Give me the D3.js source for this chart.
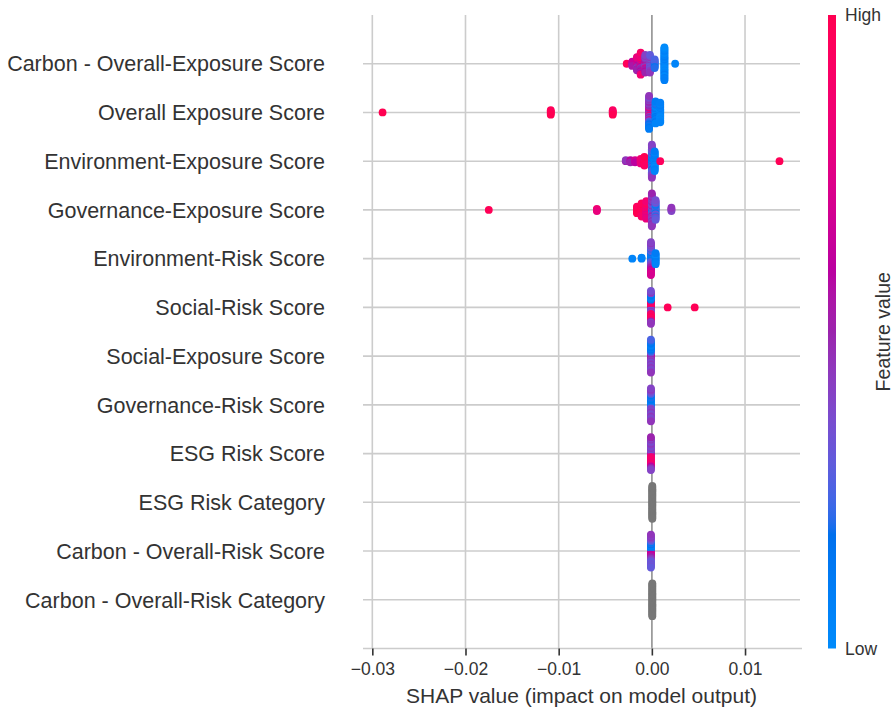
<!DOCTYPE html>
<html>
<head>
<meta charset="utf-8">
<script src="https://cdn.jsdelivr.net/npm/d3@7"></script>
<style>
  html, body { margin: 0; padding: 0; background: #ffffff; }
  svg { display: block; font-family: "Liberation Sans", Arial, Helvetica, sans-serif; }
</style>
</head>
<body>
<svg id="chart" width="894" height="710"></svg>
<script>
// Features, ordered from most to least important (top to bottom).
const featureNames = [
  "Carbon - Overall-Exposure Score",
  "Overall Exposure Score",
  "Environment-Exposure Score",
  "Governance-Exposure Score",
  "Environment-Risk Score",
  "Social-Risk Score",
  "Social-Exposure Score",
  "Governance-Risk Score",
  "ESG Risk Score",
  "ESG Risk Category",
  "Carbon - Overall-Risk Score",
  "Carbon - Overall-Risk Category"
];

// Each entry: [SHAP value, normalised feature values of the samples at that SHAP value]
// (feature value 0 = low, 1 = high, null = not numeric)
const carbonOverallExposure = [
  [-0.0027, [0.97]],
  [-0.0021, [0.6, 0.75, 0.5, 0.65, 0.55]],
  [-0.0016, [0.7, 0.55, 0.8, 0.5, 0.65, 0.75, 0.5, 0.6, 0.45, 0.7, 0.55, 0.8, 0.5]],
  [-0.0012, [0.7, 0.5, 0.8, 0.5, 0.75, 0.55, 0.65, 0.85, 0.45, 0.7, 0.5, 0.9, 0.5, 0.8, 0.6, 0.85, 0.5, 0.75, 0.6, 0.9, 0.85]],
  [-0.0007, [0.45, 0.5, 0.4, 0.55, 0.45, 0.65, 0.4, 0.5, 0.75, 0.45, 0.55, 0.4, 0.5, 0.45, 0.6, 0.4, 0.5]],
  [-0.0002, [0.35, 0.4, 0.3, 0.45, 0.35, 0.4, 0.3, 0.45, 0.4, 0.35, 0.3, 0.45, 0.4, 0.35, 0.4, 0.3, 0.45]],
  [0.0003, [0.15, 0.2, 0.25, 0.1, 0.2, 0.3, 0.15, 0.25, 0.2]],
  [0.00135, [0.05, 0.0, 0.1, 0.05, 0.08, 0.0, 0.05, 0.1, 0.02, 0.05, 0.0, 0.08, 0.05, 0.1, 0.0, 0.05,
             0.03, 0.08, 0.05, 0.0, 0.1, 0.05, 0.02, 0.08, 0.0, 0.05, 0.1, 0.03, 0.05, 0.0, 0.08]],
  [0.0025, [0.05]]
];

const overallExposure = [
  [-0.0289, [1.0]],
  [-0.01085, [0.98, 1.0, 0.95, 0.97, 1.0]],
  [-0.0042, [0.95, 1.0, 0.97, 0.93, 0.99]],
  [-0.0003, [0.7, 0.5, 0.4, 0.75, 0.45, 0.45, 0.8, 0.55, 0.4, 0.8, 0.5, 0.45, 0.35, 0.5, 0.75, 0.4,
             0.3, 0.45, 0.25, 0.5, 0.2, 0.4, 0.15, 0.45, 0.2, 0.4, 0.1, 0.35, 0.15, 0.45, 0.1]],
  [0.0004, [0.1, 0.05, 0.15, 0.1, 0.0, 0.2, 0.05, 0.1, 0.15, 0.05, 0.1, 0.0, 0.15, 0.1, 0.05, 0.2, 0.1, 0.05, 0.15, 0.1, 0.05]],
  [0.0009, [0.05, 0.0, 0.1, 0.05, 0.08, 0.0, 0.05, 0.1, 0.02, 0.05, 0.0, 0.08, 0.05, 0.1, 0.0, 0.05, 0.03, 0.08, 0.05]]
];

const environmentExposure = [
  [0.0137, [0.98]],
  [-0.0028, [0.5, 0.45]],
  [-0.0023, [0.55, 0.6, 0.5]],
  [-0.0018, [0.65, 0.7, 0.6]],
  [-0.0012, [0.8, 0.85, 0.75, 0.85, 0.8]],
  [-0.0008, [0.95, 0.9, 1.0, 0.92, 0.97, 0.9, 0.95, 1.0, 0.93]],
  [0.0, [0.1, 0.05, 0.15, 0.1, 0.2, 0.15, 0.1, 0.05, 0.25, 0.2, 0.15, 0.1, 0.3, 0.25, 0.2, 0.3,
         0.15, 0.2, 0.35, 0.35, 0.25, 0.3, 0.3, 0.4, 0.35, 0.35, 0.4, 0.45, 0.4, 0.4, 0.45]],
  [0.0003, [0.0, 0.05, 0.1, 0.05, 0.0, 0.08, 0.1, 0.05, 0.02, 0.1, 0.05, 0.08, 0.0, 0.1, 0.05, 0.03, 0.08, 0.1, 0.05]],
  [0.0009, [0.95]]
];

const governanceExposure = [
  [-0.0175, [0.98]],
  [-0.0059, [0.8, 0.85, 0.8]],
  [-0.0016, [1.0, 0.95, 0.98, 1.0, 0.97, 0.95, 1.0]],
  [-0.0011, [0.95, 1.0, 0.9, 0.98, 0.92, 1.0, 0.95, 0.9, 0.97, 1.0, 0.93, 0.95, 0.9]],
  [-0.0006, [0.85, 0.9, 0.8, 0.95, 0.75, 0.85, 0.9, 0.8, 0.7, 0.9, 0.85, 0.95, 0.8, 0.9, 0.75, 0.85, 0.8]],
  [0.0, [0.15, 0.3, 0.2, 0.45, 0.15, 0.35, 0.4, 0.5, 0.25, 0.4, 0.45, 0.3, 0.5, 0.45, 0.4, 0.5,
         0.45, 0.4, 0.35, 0.45, 0.5, 0.4, 0.45, 0.5, 0.4, 0.45, 0.5, 0.4, 0.45, 0.5, 0.45]],
  [0.0004, [0.1, 0.15, 0.2, 0.1, 0.25, 0.3, 0.15, 0.2, 0.35, 0.1, 0.3, 0.25, 0.2, 0.35, 0.4, 0.3, 0.25, 0.35, 0.3]],
  [0.0021, [0.45, 0.5, 0.4, 0.45]]
];

const environmentRisk = [
  [-0.0021, [0.05]],
  [-0.0011, [0.08, 0.05]],
  [-0.0001, [0.1, 0.1, 0.15, 0.05, 0.2, 0.15, 0.25, 0.1, 0.3, 0.2, 0.35, 0.15, 0.4, 0.25, 0.45, 0.3,
             0.5, 0.2, 0.55, 0.35, 0.6, 0.3, 0.65, 0.4, 0.7, 0.35, 0.65, 0.45, 0.75, 0.4, 0.7]],
  [0.0004, [0.05, 0.1, 0.0, 0.08, 0.12, 0.05, 0.1, 0.0, 0.06, 0.1, 0.04]]
];

const socialRisk = [
  [-0.0001, [0.95, 0.9, 0.5, 0.95, 0.4, 0.85, 0.3, 0.9, 0.45, 0.95, 0.35, 0.8, 0.9, 0.15, 0.95, 0.1,
             0.85, 0.05, 1.0, 0.1, 0.9, 0.15, 0.95, 0.1, 0.8, 0.4, 0.5, 0.45, 0.4, 0.35, 0.45]],
  [0.0017, [0.97]],
  [0.0046, [0.98]]
];

const socialExposure = [
  [-0.0001, [0.75, 0.7, 0.65, 0.55, 0.45, 0.4, 0.5, 0.25, 0.4, 0.2, 0.45, 0.15, 0.35, 0.1, 0.4, 0.15,
             0.45, 0.1, 0.35, 0.05, 0.4, 0.1, 0.45, 0.15, 0.4, 0.1, 0.35, 0.2, 0.4, 0.25, 0.45]]
];

const governanceRisk = [
  [-0.0001, [0.1, 0.15, 0.1, 0.1, 0.2, 0.05, 0.3, 0.1, 0.4, 0.15, 0.4, 0.1, 0.35, 0.2, 0.45, 0.1,
             0.4, 0.15, 0.35, 0.25, 0.4, 0.3, 0.45, 0.35, 0.4, 0.4, 0.35, 0.45, 0.4, 0.4, 0.45]]
];

const esgRiskScore = [
  [-0.0001, [0.45, 0.4, 0.6, 0.45, 0.7, 0.4, 0.8, 0.35, 0.85, 0.45, 0.9, 0.4, 0.85, 0.35, 0.9, 0.4,
             0.8, 0.45, 0.9, 0.4, 0.85, 0.35, 0.75, 0.4, 0.6, 0.45, 0.5, 0.4, 0.45, 0.5, 0.4]]
];

const esgRiskCategory = [
  [0.00005, [null, null, null, null, null, null, null, null, null, null,
             null, null, null, null, null, null, null, null, null, null,
             null, null, null, null, null, null, null, null, null, null, null]]
];

const carbonOverallRisk = [
  [-0.0001, [0.55, 0.2, 0.65, 0.1, 0.7, 0.05, 0.6, 0.1, 0.65, 0.05, 0.55, 0.15, 0.5, 0.2, 0.45, 0.1,
             0.4, 0.25, 0.35, 0.3, 0.3, 0.35, 0.3, 0.4, 0.35, 0.45, 0.3, 0.4, 0.35, 0.45, 0.3]]
];

const carbonOverallRiskCategory = [
  [0.00005, [null, null, null, null, null, null, null, null, null, null,
             null, null, null, null, null, null, null, null, null, null,
             null, null, null, null, null, null, null, null, null, null, null]]
];

const featureRows = [
  carbonOverallExposure, overallExposure, environmentExposure, governanceExposure,
  environmentRisk, socialRisk, socialExposure, governanceRisk,
  esgRiskScore, esgRiskCategory, carbonOverallRisk, carbonOverallRiskCategory
];

const xTicks = [-0.03, -0.02, -0.01, 0, 0.01];
const xDomain = [-0.031, 0.0159];
const colorbarLabels = ["Low", "High"];
const xTitle = "SHAP value (impact on model output)";
const colorbarTitle = "Feature value";

// ---- layout ----
const plot = { left: 363, right: 800, top: 15, bottom: 648.5 };
const nRows = featureNames.length;
const x = d3.scaleLinear().domain(xDomain).range([plot.left, plot.right]);
const y = d3.scaleLinear().domain([-1, nRows]).range([plot.bottom, plot.top]);
const textColor = "#333333";
const gridColor = "#cccccc";
const dotRadius = 3.9;

// ---- blue-to-red colour map built in the Lch space ----
function lch2rgb(L, C, h) {
  const a = C * Math.cos(h), b = C * Math.sin(h);
  const fy = (L + 16) / 116, fx = a / 500 + fy, fz = fy - b / 200;
  const inv = f => (f ** 3 > 0.008856 ? f ** 3 : (f - 16 / 116) / 7.787);
  const X = inv(fx) * 0.95047, Y = inv(fy), Z = inv(fz) * 1.08883;
  const lin = [
    3.24048134 * X - 1.53715152 * Y - 0.49853633 * Z,
    -0.96925495 * X + 1.87599 * Y + 0.04155593 * Z,
    0.05564664 * X - 0.20404134 * Y + 1.05731107 * Z
  ];
  const g = c => {
    const v = c > 0.0031308 ? 1.055 * Math.pow(c, 1 / 2.4) - 0.055 : 12.92 * c;
    return Math.round(255 * Math.max(0, Math.min(1, v)));
  };
  return d3.rgb(g(lin[0]), g(lin[1]), g(lin[2])).formatHex();
}
const blueLch = [54, 70, 4.6588];
const redLch = [54, 90, 0.35470565 + 2 * Math.PI];
const lMid = 40;
function featureColor(t) {
  if (t === null) return "#777777";
  const L = t < 0.5 ? blueLch[0] + (lMid - blueLch[0]) * (t / 0.5)
                    : lMid + (redLch[0] - lMid) * ((t - 0.5) / 0.5);
  const C = blueLch[1] + (redLch[1] - blueLch[1]) * t;
  const h = blueLch[2] + (redLch[2] - blueLch[2]) * t;
  return lch2rgb(L, C, h);
}

// ---- beeswarm stacking: alternate samples above/below the row, scaled per row ----
function layoutRow(groups, pos) {
  const pts = [];
  groups.forEach(([v, fvs]) => {
    fvs.forEach((fv, layer) => {
      const off = Math.ceil(layer / 2) * (layer % 2 === 1 ? 1 : -1);
      pts.push({ v, fv, off, pos });
    });
  });
  const maxOff = d3.max(pts, p => p.off + 1);
  const k = 0.9 * 0.4 / maxOff;
  pts.forEach(p => { p.yv = p.pos + p.off * k; });
  return pts;
}

const svg = d3.select("#chart");

// grid
const grid = svg.append("g");
grid.selectAll("line.vgrid").data(xTicks).join("line")
  .attr("x1", d => x(d)).attr("x2", d => x(d))
  .attr("y1", plot.top).attr("y2", plot.bottom)
  .attr("stroke", gridColor).attr("stroke-width", 1.6);
grid.selectAll("line.hgrid").data(featureNames).join("line")
  .attr("x1", plot.left).attr("x2", plot.right)
  .attr("y1", (d, i) => y(nRows - 1 - i)).attr("y2", (d, i) => y(nRows - 1 - i))
  .attr("stroke", gridColor).attr("stroke-width", 1.6);

// zero line
svg.append("line")
  .attr("x1", x(0)).attr("x2", x(0))
  .attr("y1", plot.top).attr("y2", plot.bottom)
  .attr("stroke", "#999999").attr("stroke-width", 1.6);

// points
const allPoints = featureRows.flatMap((groups, i) => layoutRow(groups, nRows - 1 - i));
svg.append("g").selectAll("circle").data(allPoints).join("circle")
  .attr("cx", d => x(d.v))
  .attr("cy", d => y(d.yv))
  .attr("r", dotRadius)
  .attr("fill", d => featureColor(d.fv));

// bottom spine
svg.append("line")
  .attr("x1", plot.left).attr("x2", plot.right + 2)
  .attr("y1", plot.bottom).attr("y2", plot.bottom)
  .attr("stroke", gridColor).attr("stroke-width", 1.6);

// x axis
const xAxis = svg.append("g")
  .attr("transform", `translate(0,${plot.bottom})`)
  .call(d3.axisBottom(x).tickValues(xTicks).tickFormat(d3.format(".2f"))
    .tickSize(7).tickSizeOuter(0).tickPadding(7.5));
xAxis.select(".domain").remove();
xAxis.selectAll(".tick line").attr("stroke", textColor).attr("stroke-width", 1.6);
xAxis.selectAll(".tick text")
  .attr("fill", textColor)
  .style("font-size", "17.5px")
  .style("font-family", '"Liberation Sans", Arial, sans-serif');

svg.append("text")
  .attr("x", (plot.left + plot.right) / 2)
  .attr("y", 703)
  .attr("text-anchor", "middle")
  .attr("fill", textColor)
  .style("font-size", "21px")
  .text(xTitle);

// feature labels
svg.append("g").selectAll("text").data(featureNames).join("text")
  .attr("x", 325)
  .attr("y", (d, i) => y(nRows - 1 - i))
  .attr("dy", "0.36em")
  .attr("text-anchor", "end")
  .attr("fill", textColor)
  .style("font-size", "21.5px")
  .text(d => d);

// colour bar
const defs = svg.append("defs");
const grad = defs.append("linearGradient")
  .attr("id", "featureGradient")
  .attr("x1", 0).attr("y1", 1).attr("x2", 0).attr("y2", 0);
grad.selectAll("stop").data(d3.range(0, 101)).join("stop")
  .attr("offset", d => `${d}%`)
  .attr("stop-color", d => featureColor(d / 100));

const cb = { x: 828, width: 8 };
svg.append("rect")
  .attr("x", cb.x).attr("y", plot.top)
  .attr("width", cb.width).attr("height", plot.bottom - plot.top)
  .attr("fill", "url(#featureGradient)");

svg.append("g").selectAll("text").data(colorbarLabels).join("text")
  .attr("x", cb.x + cb.width + 9)
  .attr("y", (d, i) => (i === 0 ? plot.bottom : plot.top))
  .attr("dy", "0.36em")
  .attr("fill", textColor)
  .style("font-size", "17.5px")
  .text(d => d);

svg.append("text")
  .attr("transform", `translate(883,${(plot.top + plot.bottom) / 2}) rotate(-90)`)
  .attr("text-anchor", "middle")
  .attr("dy", "0.36em")
  .attr("fill", textColor)
  .style("font-size", "19.5px")
  .text(colorbarTitle);
</script>
</body>
</html>
